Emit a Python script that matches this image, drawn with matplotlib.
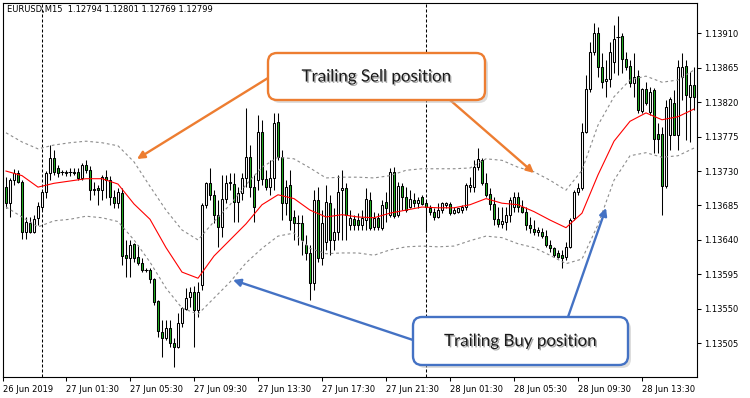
import matplotlib
matplotlib.use("Agg")
import matplotlib.pyplot as plt
import matplotlib.patheffects as pe
from matplotlib.patches import Rectangle, FancyBboxPatch
from matplotlib.transforms import IdentityTransform

# EURUSD M15 bars, index 0 = 26 Jun 2019 21:45
opens = [
    1.13709, 1.13688, 1.13718, 1.13727, 1.13716, 1.13650, 1.13662, 1.13650, 1.13669, 1.13683,
    1.13703, 1.13727, 1.13747, 1.13734, 1.13729, 1.13727, 1.13729, 1.13729, 1.13729, 1.13721,
    1.13738, 1.13731, 1.13705, 1.13708, 1.13705, 1.13722, 1.13718, 1.13696, 1.13688, 1.13701,
    1.13620, 1.13616, 1.13635, 1.13618, 1.13610, 1.13601, 1.13601, 1.13589, 1.13560, 1.13520,
    1.13512, 1.13525, 1.13505, 1.13500, 1.13532, 1.13550, 1.13566, 1.13572, 1.13549, 1.13581,
    1.13686, 1.13714, 1.13699, 1.13673, 1.13657, 1.13694, 1.13714, 1.13713, 1.13690, 1.13701,
    1.13721, 1.13748, 1.13709, 1.13718, 1.13781, 1.13720, 1.13709, 1.13721, 1.13794, 1.13748,
    1.13688, 1.13712, 1.13670, 1.13662, 1.13662, 1.13633, 1.13623, 1.13584, 1.13692, 1.13616,
    1.13637, 1.13688, 1.13640, 1.13650, 1.13705, 1.13708, 1.13660, 1.13667, 1.13666, 1.13660,
    1.13666, 1.13692, 1.13657, 1.13669, 1.13656, 1.13690, 1.13673, 1.13729, 1.13673, 1.13710,
    1.13696, 1.13683, 1.13692, 1.13688, 1.13696, 1.13688, 1.13682, 1.13677, 1.13670, 1.13679,
    1.13686, 1.13687, 1.13675, 1.13677, 1.13679, 1.13683, 1.13709, 1.13709, 1.13735, 1.13744,
    1.13714, 1.13700, 1.13687, 1.13667, 1.13661, 1.13664, 1.13673, 1.13683, 1.13696, 1.13683,
    1.13677, 1.13660, 1.13654, 1.13650, 1.13650, 1.13645, 1.13633, 1.13630, 1.13623, 1.13620,
    1.13618, 1.13631, 1.13669, 1.13703, 1.13708, 1.13781, 1.13837, 1.13886, 1.13910, 1.13866,
    1.13848, 1.13850, 1.13873, 1.13905, 1.13906, 1.13876, 1.13867, 1.13845, 1.13854, 1.13808,
    1.13837, 1.13807, 1.13836, 1.13778, 1.13778, 1.13710, 1.13777, 1.13819, 1.13777, 1.13853,
    1.13867, 1.13827, 1.13843,
]
highs = [
    1.13722, 1.13721, 1.13733, 1.13731, 1.13718, 1.13670, 1.13670, 1.13673, 1.13690, 1.13705,
    1.13730, 1.13764, 1.13758, 1.13738, 1.13731, 1.13731, 1.13734, 1.13734, 1.13734, 1.13741,
    1.13744, 1.13737, 1.13716, 1.13712, 1.13725, 1.13731, 1.13724, 1.13705, 1.13708, 1.13708,
    1.13640, 1.13640, 1.13636, 1.13633, 1.13616, 1.13603, 1.13603, 1.13590, 1.13562, 1.13535,
    1.13535, 1.13535, 1.13512, 1.13545, 1.13552, 1.13577, 1.13579, 1.13580, 1.13585, 1.13688,
    1.13716, 1.13734, 1.13705, 1.13692, 1.13725, 1.13725, 1.13727, 1.13727, 1.13709, 1.13727,
    1.13812, 1.13764, 1.13725, 1.13803, 1.13797, 1.13731, 1.13744, 1.13806, 1.13806, 1.13758,
    1.13718, 1.13731, 1.13679, 1.13673, 1.13673, 1.13647, 1.13633, 1.13705, 1.13709, 1.13679,
    1.13712, 1.13699, 1.13682, 1.13725, 1.13731, 1.13714, 1.13679, 1.13673, 1.13675, 1.13679,
    1.13708, 1.13703, 1.13677, 1.13675, 1.13692, 1.13703, 1.13734, 1.13735, 1.13716, 1.13714,
    1.13709, 1.13705, 1.13701, 1.13696, 1.13699, 1.13692, 1.13686, 1.13682, 1.13688, 1.13690,
    1.13690, 1.13690, 1.13683, 1.13682, 1.13686, 1.13714, 1.13722, 1.13744, 1.13760, 1.13747,
    1.13727, 1.13708, 1.13696, 1.13683, 1.13683, 1.13683, 1.13696, 1.13703, 1.13703, 1.13692,
    1.13683, 1.13670, 1.13666, 1.13657, 1.13656, 1.13653, 1.13640, 1.13631, 1.13627, 1.13627,
    1.13637, 1.13669, 1.13705, 1.13714, 1.13793, 1.13856, 1.13899, 1.13924, 1.13918, 1.13884,
    1.13875, 1.13899, 1.13921, 1.13933, 1.13910, 1.13886, 1.13875, 1.13884, 1.13862, 1.13839,
    1.13846, 1.13840, 1.13839, 1.13793, 1.13788, 1.13823, 1.13827, 1.13836, 1.13875, 1.13884,
    1.13875, 1.13859, 1.13866,
]
lows = [
    1.13682, 1.13670, 1.13712, 1.13714, 1.13641, 1.13641, 1.13649, 1.13649, 1.13660, 1.13679,
    1.13695, 1.13718, 1.13725, 1.13722, 1.13725, 1.13724, 1.13724, 1.13725, 1.13718, 1.13718,
    1.13727, 1.13692, 1.13699, 1.13686, 1.13692, 1.13695, 1.13686, 1.13682, 1.13682, 1.13607,
    1.13592, 1.13592, 1.13611, 1.13607, 1.13598, 1.13598, 1.13584, 1.13555, 1.13513, 1.13487,
    1.13509, 1.13500, 1.13474, 1.13499, 1.13526, 1.13549, 1.13552, 1.13500, 1.13539, 1.13575,
    1.13682, 1.13692, 1.13662, 1.13631, 1.13644, 1.13688, 1.13705, 1.13664, 1.13664, 1.13692,
    1.13709, 1.13696, 1.13664, 1.13705, 1.13712, 1.13705, 1.13699, 1.13705, 1.13744, 1.13666,
    1.13673, 1.13653, 1.13640, 1.13633, 1.13620, 1.13614, 1.13562, 1.13575, 1.13611, 1.13607,
    1.13627, 1.13620, 1.13627, 1.13640, 1.13640, 1.13640, 1.13653, 1.13653, 1.13653, 1.13653,
    1.13653, 1.13653, 1.13653, 1.13653, 1.13653, 1.13664, 1.13670, 1.13669, 1.13670, 1.13679,
    1.13677, 1.13682, 1.13683, 1.13682, 1.13686, 1.13650, 1.13673, 1.13666, 1.13669, 1.13675,
    1.13682, 1.13673, 1.13674, 1.13675, 1.13675, 1.13679, 1.13703, 1.13703, 1.13731, 1.13712,
    1.13696, 1.13679, 1.13660, 1.13657, 1.13656, 1.13653, 1.13664, 1.13677, 1.13677, 1.13675,
    1.13653, 1.13649, 1.13647, 1.13645, 1.13643, 1.13631, 1.13624, 1.13618, 1.13616, 1.13603,
    1.13614, 1.13630, 1.13666, 1.13699, 1.13705, 1.13780, 1.13833, 1.13882, 1.13853, 1.13839,
    1.13827, 1.13840, 1.13858, 1.13856, 1.13858, 1.13862, 1.13840, 1.13827, 1.13806, 1.13806,
    1.13816, 1.13803, 1.13754, 1.13754, 1.13673, 1.13708, 1.13758, 1.13777, 1.13758, 1.13823,
    1.13771, 1.13768, 1.13810,
]
closes = [
    1.13688, 1.13718, 1.13727, 1.13716, 1.13650, 1.13664, 1.13650, 1.13667, 1.13684, 1.13703,
    1.13727, 1.13747, 1.13729, 1.13727, 1.13728, 1.13729, 1.13728, 1.13727, 1.13721, 1.13738,
    1.13731, 1.13705, 1.13707, 1.13705, 1.13722, 1.13718, 1.13696, 1.13688, 1.13703, 1.13619,
    1.13616, 1.13633, 1.13616, 1.13610, 1.13601, 1.13600, 1.13589, 1.13559, 1.13521, 1.13512,
    1.13525, 1.13505, 1.13500, 1.13532, 1.13551, 1.13564, 1.13572, 1.13549, 1.13572, 1.13686,
    1.13714, 1.13699, 1.13673, 1.13657, 1.13694, 1.13714, 1.13716, 1.13690, 1.13701, 1.13721,
    1.13748, 1.13709, 1.13683, 1.13781, 1.13720, 1.13709, 1.13721, 1.13793, 1.13748, 1.13688,
    1.13709, 1.13666, 1.13662, 1.13661, 1.13640, 1.13623, 1.13584, 1.13692, 1.13616, 1.13662,
    1.13690, 1.13640, 1.13650, 1.13703, 1.13708, 1.13673, 1.13669, 1.13660, 1.13660, 1.13669,
    1.13694, 1.13656, 1.13669, 1.13657, 1.13686, 1.13682, 1.13729, 1.13671, 1.13710, 1.13696,
    1.13679, 1.13694, 1.13688, 1.13692, 1.13687, 1.13683, 1.13677, 1.13670, 1.13679, 1.13688,
    1.13688, 1.13675, 1.13679, 1.13682, 1.13683, 1.13712, 1.13712, 1.13735, 1.13746, 1.13714,
    1.13699, 1.13687, 1.13667, 1.13661, 1.13665, 1.13673, 1.13692, 1.13696, 1.13683, 1.13677,
    1.13660, 1.13656, 1.13650, 1.13653, 1.13645, 1.13633, 1.13630, 1.13620, 1.13618, 1.13616,
    1.13631, 1.13666, 1.13703, 1.13708, 1.13781, 1.13837, 1.13886, 1.13910, 1.13866, 1.13846,
    1.13850, 1.13886, 1.13903, 1.13906, 1.13876, 1.13866, 1.13845, 1.13853, 1.13810, 1.13837,
    1.13819, 1.13833, 1.13772, 1.13772, 1.13710, 1.13814, 1.13824, 1.13777, 1.13866, 1.13866,
    1.13829, 1.13843, 1.13827,
]

# indicator read every 4th bar: middle line and the two trailing bands
line_bars = list(range(0, 173, 4))
ma_line = [
    1.13730, 1.13724, 1.13709, 1.13714, 1.13717, 1.13720, 1.13720, 1.13713, 1.13687, 1.13667,
    1.13630, 1.13598, 1.13590, 1.13619, 1.13640, 1.13661, 1.13686, 1.13699, 1.13694, 1.13679,
    1.13670, 1.13673, 1.13670, 1.13669, 1.13675, 1.13679, 1.13683, 1.13682, 1.13682, 1.13686,
    1.13694, 1.13688, 1.13686, 1.13677, 1.13666, 1.13656, 1.13675, 1.13725, 1.13769, 1.13795,
    1.13806, 1.13797, 1.13801, 1.13811,
]
band_upper = [
    1.13780, 1.13768, 1.13759, 1.13764, 1.13767, 1.13769, 1.13767, 1.13763, 1.13742, 1.13710,
    1.13679, 1.13653, 1.13640, 1.13664, 1.13686, 1.13712, 1.13735, 1.13748, 1.13746, 1.13734,
    1.13721, 1.13722, 1.13722, 1.13721, 1.13724, 1.13731, 1.13733, 1.13733, 1.13733, 1.13734,
    1.13746, 1.13744, 1.13735, 1.13729, 1.13718, 1.13705, 1.13731, 1.13790, 1.13827, 1.13849,
    1.13854, 1.13846, 1.13849, 1.13862,
]
band_lower = [
    1.13683, 1.13670, 1.13657, 1.13665, 1.13667, 1.13671, 1.13669, 1.13664, 1.13640, 1.13611,
    1.13577, 1.13551, 1.13543, 1.13564, 1.13585, 1.13610, 1.13629, 1.13645, 1.13649, 1.13629,
    1.13622, 1.13623, 1.13623, 1.13620, 1.13627, 1.13631, 1.13632, 1.13631, 1.13632, 1.13639,
    1.13645, 1.13643, 1.13635, 1.13630, 1.13620, 1.13609, 1.13615, 1.13660, 1.13718, 1.13750,
    1.13754, 1.13748, 1.13750, 1.13760,
]

time_ticks = [-0.85, 15, 31, 47, 63, 79, 95, 111, 127, 143, 159]
time_labels = ["26 Jun 2019", "27 Jun 01:30", "27 Jun 05:30", "27 Jun 09:30",
               "27 Jun 13:30", "27 Jun 17:30", "27 Jun 21:30", "28 Jun 01:30",
               "28 Jun 05:30", "28 Jun 09:30", "28 Jun 13:30"]
price_ticks = [1.13505, 1.13550, 1.13595, 1.13640, 1.13685, 1.13730,
               1.13775, 1.13820, 1.13865, 1.13910]
day_breaks = [9, 105]

W, H = 750, 398
fig = plt.figure(figsize=(W / 100, H / 100), dpi=100)
fig.patch.set_facecolor("white")
ax = fig.add_axes([2.5 / W, 1 - 376.5 / H, 694.5 / W, 374 / H])
ax.set_xlim(-0.875, 172.75)
ax.set_ylim(1.134616, 1.139502)

bull_col = "white"
bear_col = "#22b022"
for i in range(len(opens)):
    o, h, l, c = opens[i], highs[i], lows[i], closes[i]
    ax.vlines(i, l, h, color="black", lw=0.75, zorder=3)
    if abs(c - o) < 0.000015:
        ax.hlines(o, i - 0.4, i + 0.4, color="black", lw=0.75, zorder=4)
    else:
        body = Rectangle((i - 0.28, min(o, c)), 0.56, abs(c - o),
                         facecolor=bull_col if c > o else bear_col,
                         edgecolor="black", lw=0.75, zorder=4)
        ax.add_patch(body)

ax.plot(line_bars, ma_line, color="#ff0000", lw=0.8, zorder=5)
ax.plot(line_bars, band_upper, color="#8c8c8c", lw=0.8, ls=(0, (2.5, 2.5)), zorder=5)
ax.plot(line_bars, band_lower, color="#8c8c8c", lw=0.8, ls=(0, (2.5, 2.5)), zorder=5)

for b in day_breaks:
    ax.axvline(b, color="black", lw=0.75, ls=(0, (2.9, 1.9)), zorder=2)

for s in ax.spines.values():
    s.set_linewidth(0.8)
    s.set_color("black")

ax.yaxis.tick_right()
ax.set_yticks(price_ticks)
ax.set_yticklabels([f"{p:.5f}" for p in price_ticks])
ax.tick_params(axis="y", direction="out", length=3, width=0.75, pad=2,
               labelsize=6, colors="black")
ax.set_xticks(time_ticks)
ax.set_xticklabels(time_labels, ha="left")
ax.tick_params(axis="x", direction="out", length=3, width=0.75, pad=3,
               labelsize=6, colors="black")

fig.text(7 / W, 1 - 9.5 / H, "EURUSD,M15  1.12794 1.12801 1.12769 1.12799",
         fontsize=6, va="center", ha="left")


# callouts, positions in image pixels (y down)
def fp(x, y):
    return (x, H - y)


def callout(x0, y0, x1, y1, text, color, arrows):
    for (sx, sy), (ex, ey) in arrows:
        ax.annotate("", xy=fp(ex, ey), xycoords="figure pixels",
                    xytext=fp(sx, sy), textcoords="figure pixels",
                    arrowprops=dict(arrowstyle="-|>", color=color, lw=1.7,
                                    mutation_scale=11, shrinkA=0, shrinkB=0),
                    annotation_clip=False, zorder=8)
    shadow = FancyBboxPatch((x0 + 3, H - y1 - 3), x1 - x0, y1 - y0,
                            boxstyle="round,pad=0,rounding_size=9",
                            transform=IdentityTransform(), facecolor="#bdbdbd",
                            edgecolor="none", alpha=0.5, zorder=9)
    box = FancyBboxPatch((x0, H - y1), x1 - x0, y1 - y0,
                         boxstyle="round,pad=0,rounding_size=9",
                         transform=IdentityTransform(), facecolor="white",
                         edgecolor=color, lw=1.7, zorder=10)
    fig.add_artist(shadow)
    fig.add_artist(box)
    t = fig.text((x0 + x1) / 2 / W, 1 - (y0 + y1) / 2 / H, text, ha="center",
                 va="center", fontsize=12.2, family="Lato", color="#1a1a1a",
                 zorder=11)
    t.set_path_effects([pe.SimplePatchShadow(offset=(1, -1), alpha=0.35),
                        pe.Normal()])


callout(268, 53, 485, 100, "Trailing Sell position", "#ed7d31",
        [((268, 78), (137, 159)), ((450, 100), (534, 173))])
callout(413, 317, 628, 365, "Trailing Buy position", "#4472c4",
        [((413, 340), (233, 280)), ((568, 317), (606, 208))])

fig.savefig("out.png", dpi=100)
